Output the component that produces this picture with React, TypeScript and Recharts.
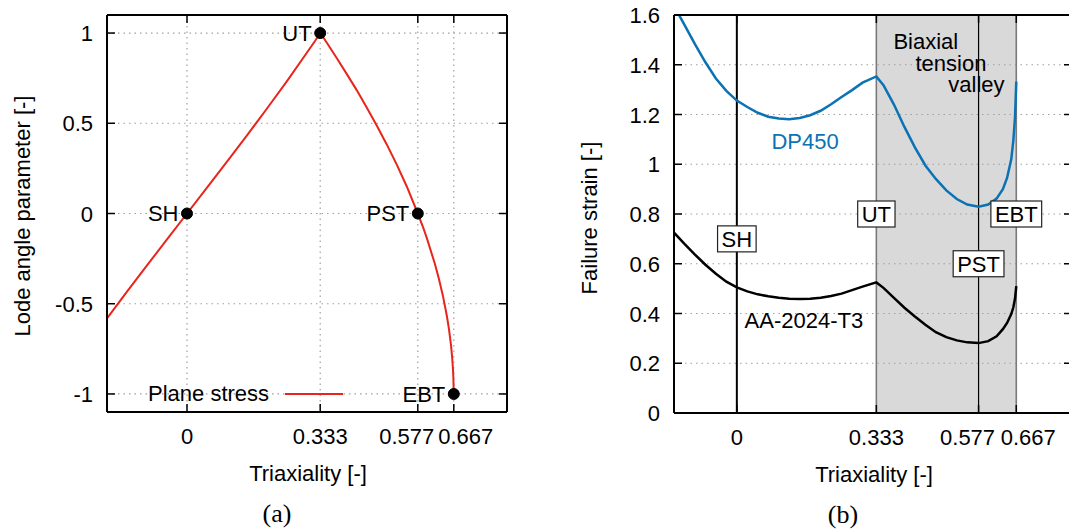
import React from 'react';
import {
    ComposedChart,
    Line,
    XAxis,
    YAxis,
    CartesianGrid,
    ReferenceDot,
    ReferenceLine,
    ReferenceArea,
    Legend,
} from 'recharts';

const FONT = '"Liberation Sans", Arial, Helvetica, sans-serif';
const SERIF = '"Liberation Serif", "DejaVu Serif", serif';
const BLUE = '#0b72b4';
const RED = '#e8251b';

// ---- (a) plane stress locus in (triaxiality, lode) space
const psEta = [-0.2, -0.15, -0.1, -0.05, 0, 0.05, 0.1, 0.15, 0.2, 0.25, 0.3, 0.32, 0.333, 0.34, 0.35, 0.375, 0.4, 0.425, 0.45, 0.475, 0.5, 0.525, 0.55, 0.577, 0.59, 0.6, 0.62, 0.63, 0.64, 0.65, 0.655, 0.66, 0.663, 0.665, 0.666, 0.6665, 0.667];
const psLode = [-0.582, -0.433, -0.288, -0.143, 0, 0.143, 0.288, 0.433, 0.582, 0.734, 0.892, 0.956, 1, 0.978, 0.945, 0.859, 0.771, 0.681, 0.584, 0.485, 0.38, 0.268, 0.147, 0, -0.075, -0.139, -0.281, -0.364, -0.458, -0.572, -0.642, -0.73, -0.8, -0.865, -0.915, -0.958, -1];

const loadCases = ['SH', 'UT', 'PST', 'EBT'];
const loadEta = [0, 0.333, 0.577, 0.667];
const loadLode = [0, 1, 0, -1];

const etaTicks = [0, 0.333, 0.577, 0.667];
const lodeTicks = [-1, -0.5, 0, 0.5, 1];
const strainTicks = [0, 0.2, 0.4, 0.6, 0.8, 1, 1.2, 1.4, 1.6];

// ---- (b) failure strain vs triaxiality
const triax = [-0.15, -0.125, -0.1, -0.075, -0.05, -0.025, 0, 0.025, 0.05, 0.075, 0.1, 0.125, 0.15, 0.175, 0.2, 0.225, 0.25, 0.275, 0.3, 0.333, 0.35, 0.375, 0.4, 0.425, 0.45, 0.475, 0.5, 0.525, 0.55, 0.577, 0.6, 0.62, 0.635, 0.645, 0.655, 0.66, 0.664, 0.667];
const dp450 = [1.637, 1.56, 1.483, 1.41, 1.345, 1.295, 1.256, 1.23, 1.207, 1.191, 1.184, 1.181, 1.186, 1.197, 1.215, 1.241, 1.27, 1.298, 1.328, 1.353, 1.318, 1.24, 1.15, 1.068, 0.995, 0.941, 0.895, 0.86, 0.838, 0.829, 0.838, 0.862, 0.9, 0.945, 1.02, 1.095, 1.19, 1.332];
const aa2024 = [0.725, 0.68, 0.637, 0.596, 0.56, 0.528, 0.505, 0.489, 0.477, 0.469, 0.463, 0.459, 0.458, 0.459, 0.463, 0.47, 0.48, 0.494, 0.508, 0.525, 0.503, 0.463, 0.423, 0.388, 0.355, 0.325, 0.305, 0.292, 0.284, 0.281, 0.289, 0.308, 0.337, 0.362, 0.398, 0.425, 0.46, 0.51];
const boxStrain = [0.7, 0.8, 0.6, 0.8];

const planeData = psEta.map((eta, i) => ({ eta, lode: psLode[i] }));
const strainData = triax.map((eta, i) => ({ eta, dp: dp450[i], aa: aa2024[i] }));

// text placed in panel (b), in data coordinates
const notesB = [
    { text: 'Biaxial', x: 0.451, y: 1.464, color: '#000' },
    { text: 'tension', x: 0.511, y: 1.376, color: '#000' },
    { text: 'valley', x: 0.572, y: 1.292, color: '#000' },
    { text: 'DP450', x: 0.163, y: 1.062, color: BLUE },
    { text: 'AA-2024-T3', x: 0.16, y: 0.341, color: '#000' },
];

const tickShift: Record<string, number> = { '0.577': -11, '0.667': 12 };

// bottom tick: label + inward tick, plus the mirrored tick on the top frame (h = plot height)
// eslint-disable-next-line @typescript-eslint/no-explicit-any
const BottomTick = (props: any) => {
    const { x, y, payload, h } = props;
    return (
        <g>
            <line x1={x} x2={x} y1={y} y2={y - 8} stroke="#000" strokeWidth={1.5} />
            <line x1={x} x2={x} y1={y - h} y2={y - h + 8} stroke="#000" strokeWidth={1.5} />
            <text x={x + (tickShift[String(payload.value)] || 0)} y={y + 32} textAnchor="middle" fontSize={22} fontFamily={FONT} fill="#000">
                {payload.value}
            </text>
        </g>
    );
};

// left tick: label + inward tick, plus the mirrored tick on the right frame (w = plot width)
// eslint-disable-next-line @typescript-eslint/no-explicit-any
const LeftTick = (props: any) => {
    const { x, y, payload, w } = props;
    return (
        <g>
            <line x1={x} x2={x + 8} y1={y} y2={y} stroke="#000" strokeWidth={1.5} />
            <line x1={x + w - 8} x2={x + w} y1={y} y2={y} stroke="#000" strokeWidth={1.5} />
            <text x={x - 14} y={y + 8} textAnchor="end" fontSize={22} fontFamily={FONT} fill="#000">
                {payload.value}
            </text>
        </g>
    );
};

const charW: Record<string, number> = { S: 0.667, H: 0.722, U: 0.722, T: 0.611, P: 0.667, E: 0.667, B: 0.667 };

const boxShape = (text: string) => {
    // eslint-disable-next-line @typescript-eslint/no-explicit-any
    const Shape = (props: any) => {
        const { cx, cy } = props;
        const w = text.split('').reduce((s, c) => s + (charW[c] ?? 0.6), 0) * 22 + 8;
        const h = 26;
        return (
            <g>
                <rect x={cx - w / 2} y={cy - h / 2} width={w} height={h} fill="#fff" stroke="#222" strokeWidth={1.2} />
                <text x={cx} y={cy + 8} textAnchor="middle" fontSize={22} fontFamily={FONT} fill="#000">
                    {text}
                </text>
            </g>
        );
    };
    return Shape;
};

const textShape = (text: string, color: string) => {
    // eslint-disable-next-line @typescript-eslint/no-explicit-any
    const Shape = (props: any) => (
        <text x={props.cx} y={props.cy} textAnchor="middle" fontSize={22} fontFamily={FONT} fill={color}>
            {text}
        </text>
    );
    return Shape;
};

const PlaneLegend = () => (
    <div style={{ display: 'flex', alignItems: 'center', height: 26, lineHeight: '26px', fontSize: 22, fontFamily: FONT, color: '#000', whiteSpace: 'nowrap' }}>
        <span>Plane stress</span>
        <svg width={75} height={26} style={{ display: 'block' }}>
            <line x1={16} x2={74} y1={13} y2={13} stroke={RED} strokeWidth={2} />
        </svg>
    </div>
);

const title = (text: string, left: number, top: number, rotate = false, serif = false) => (
    <div
        style={{
            position: 'absolute',
            left,
            top,
            transform: `translate(-50%, -50%)${rotate ? ' rotate(-90deg)' : ''}`,
            whiteSpace: 'nowrap',
            fontFamily: serif ? SERIF : FONT,
            fontSize: serif ? 26 : 22,
            color: '#000',
        }}
    >
        {text}
    </div>
);

const frame = { stroke: '#000', strokeWidth: 2 };

export default function App() {
    return (
        <div style={{ position: 'absolute', left: 0, top: 0, width: 1069, height: 530, overflow: 'hidden', background: '#fff' }}>
            <div style={{ position: 'absolute', left: 0, top: 0 }}>
                <ComposedChart width={530} height={530} data={planeData} margin={{ top: 10, right: 13, bottom: 88, left: 0 }}>
                    <CartesianGrid stroke="#a0a0a0" strokeDasharray="1.5 4" strokeWidth={1.2} />
                    <XAxis dataKey="eta" type="number" domain={[-0.2, 0.8]} ticks={etaTicks} interval={0} allowDataOverflow
                        height={30} tickSize={0} tickMargin={0} tickLine={false} axisLine={frame} tick={<BottomTick h={397} />} />
                    <XAxis xAxisId="top" orientation="top" type="number" domain={[-0.2, 0.8]} allowDataOverflow
                        height={5} tickLine={false} axisLine={frame} tick={false} />
                    <YAxis type="number" domain={[-1.1, 1.1]} ticks={lodeTicks} interval={0} allowDataOverflow
                        width={107} tickSize={0} tickMargin={0} tickLine={false} axisLine={frame} tick={<LeftTick w={400} />} />
                    <YAxis yAxisId="right" orientation="right" type="number" domain={[-1.1, 1.1]} allowDataOverflow
                        width={10} tickLine={false} axisLine={frame} tick={false} />
                    <Line dataKey="lode" type="linear" stroke={RED} strokeWidth={2} dot={false} isAnimationActive={false} />
                    {loadCases.map((name, i) => (
                        <ReferenceDot key={name} x={loadEta[i]} y={loadLode[i]} r={5.5} fill="#000" stroke="#000"
                            label={{ value: name, position: 'left', offset: 3, fontSize: 22, fill: '#000', fontFamily: FONT }} />
                    ))}
                    <Legend layout="horizontal" verticalAlign="middle" align="center" content={PlaneLegend}
                        wrapperStyle={{ position: 'absolute', left: 148, top: 381, width: 'auto', height: 26 }} />
                </ComposedChart>
            </div>

            <div style={{ position: 'absolute', left: 530, top: 0 }}>
                <ComposedChart width={560} height={530} data={strainData} margin={{ top: 10, right: 8, bottom: 87, left: 44 }}>
                    <XAxis dataKey="eta" type="number" domain={[-0.15, 0.8]} ticks={etaTicks} interval={0} allowDataOverflow
                        height={30} tickSize={0} tickMargin={0} tickLine={false} axisLine={frame} tick={<BottomTick h={398} />} />
                    <XAxis xAxisId="top" orientation="top" type="number" domain={[-0.15, 0.8]} allowDataOverflow
                        height={5} tickLine={false} axisLine={frame} tick={false} />
                    <YAxis type="number" domain={[0, 1.6]} ticks={strainTicks} interval={0} allowDataOverflow
                        width={100} tickSize={0} tickMargin={0} tickLine={false} axisLine={frame} tick={<LeftTick w={398} />} />
                    <YAxis yAxisId="right" orientation="right" type="number" domain={[0, 1.6]} allowDataOverflow
                        width={10} tickLine={false} axisLine={frame} tick={false} />
                    <ReferenceArea x1={0.333} x2={0.667} fill="#d9d9d9" fillOpacity={1} stroke="none" />
                    {strainTicks.slice(1, -1).map((v) => (
                        <ReferenceLine key={`g${v}`} y={v} stroke="#a0a0a0" strokeDasharray="1.5 4" strokeWidth={1.2} />
                    ))}
                    <ReferenceLine x={0} stroke="#000" strokeWidth={2} />
                    <ReferenceLine x={0.333} stroke="#7a7a7a" strokeWidth={1.6} />
                    <ReferenceLine x={0.577} stroke="#000" strokeWidth={1.2} />
                    <ReferenceLine x={0.667} stroke="#7a7a7a" strokeWidth={1.6} />
                    <Line dataKey="dp" type="linear" stroke={BLUE} strokeWidth={2.5} dot={false} isAnimationActive={false} />
                    <Line dataKey="aa" type="linear" stroke="#000" strokeWidth={2.5} dot={false} isAnimationActive={false} />
                    {loadCases.map((name, i) => (
                        <ReferenceDot key={name} x={loadEta[i]} y={boxStrain[i]} r={1} shape={boxShape(name)} />
                    ))}
                    {notesB.map((n) => (
                        <ReferenceDot key={n.text} x={n.x} y={n.y} r={1} shape={textShape(n.text, n.color)} />
                    ))}
                </ComposedChart>
            </div>

            {title('Lode angle parameter [-]', 23, 216, true)}
            {title('Triaxiality [-]', 308, 474)}
            {title('(a)', 277, 514, false, true)}
            {title('Failure strain [-]', 590, 218, true)}
            {title('Triaxiality [-]', 874, 475)}
            {title('(b)', 843, 515, false, true)}
        </div>
    );
}
